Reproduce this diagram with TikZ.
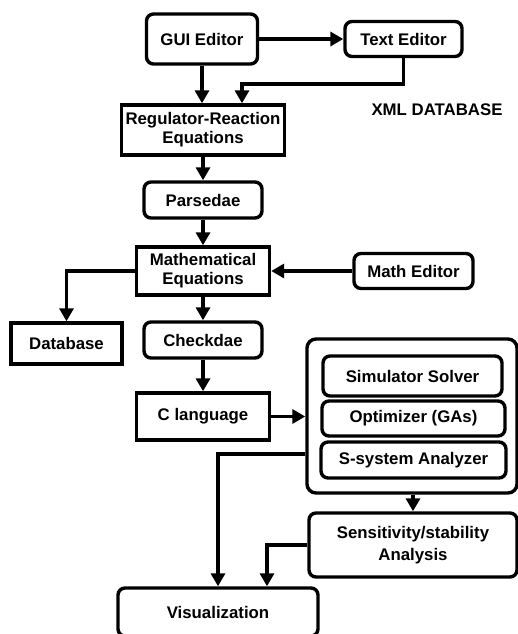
\documentclass[tikz,border=0pt]{standalone}
\usepackage{fontspec}
\setmainfont{Liberation Sans}
\usepackage{tikz}
\usetikzlibrary{arrows.meta, positioning}
\tikzstyle{roundbox}=[draw, line width=3.4pt, rounded corners=7pt, align=center, inner sep=0pt, font=\fontsize{16.8}{19}\selectfont\bfseries]
\tikzstyle{sharpbox}=[draw, line width=3.4pt, align=center, inner sep=0pt, font=\fontsize{16.8}{19}\selectfont\bfseries]
\tikzstyle{flow}=[line width=3.6pt, -{Triangle[length=13pt, width=14pt]}]
\tikzstyle{plainlabel}=[font=\fontsize{16.8}{19}\selectfont\bfseries]

\begin{document}
\begin{tikzpicture}[x=1pt, y=-1pt]
    % Frame
    \useasboundingbox (0,0) rectangle (518,634);

    % Editors
    \node[roundbox, minimum width=111pt, minimum height=50pt] (gui) at (202,39) {GUI Editor};
    \node[roundbox, minimum width=117pt, minimum height=35pt] (text) at (403.5,39) {Text Editor};
    \node[plainlabel] (xml) at (437,110) {XML DATABASE};

    % Equation chain
    \node[sharpbox, minimum width=163pt, minimum height=50pt] (reg) at (203,130) {Regulator-Reaction\\Equations};
    \node[roundbox, minimum width=118pt, minimum height=36pt] (parse) at (203,200) {Parsedae};
    \node[sharpbox, minimum width=133pt, minimum height=48pt] (math) at (203,271) {Mathematical\\Equations};
    \node[roundbox, minimum width=119pt, minimum height=35pt] (matheditor) at (413.5,271) {Math Editor};
    \node[sharpbox, minimum width=111pt, minimum height=41pt] (db) at (66.5,343.5) {Database};
    \node[roundbox, minimum width=118pt, minimum height=36pt] (check) at (203,340) {Checkdae};
    \node[sharpbox, minimum width=133pt, minimum height=47pt] (clang) at (203,416.5) {C language};

    % Solver block
    \node[draw, line width=3.4pt, rounded corners=9pt, minimum width=210pt, minimum height=154pt] (solver) at (412,416) {};
    \node[roundbox, minimum width=179pt, minimum height=40pt] (sim) at (412.5,376) {Simulator Solver};
    \node[roundbox, minimum width=183pt, minimum height=35pt] (opt) at (413.5,418.5) {Optimizer (GAs)};
    \node[roundbox, minimum width=185pt, minimum height=36pt] (sana) at (413.5,460) {S-system Analyzer};

    % Outputs
    \node[roundbox, minimum width=208pt, minimum height=64pt] (sens) at (413,545) {Sensitivity/stability\\[3pt]Analysis};
    \node[roundbox, minimum width=200pt, minimum height=48pt] (vis) at (218,612) {Visualization};

    % Connections
    \coordinate (join) at (242,84);
    \draw[flow] (gui.east) -- (text.west);
    \draw[flow] (gui.south) -- (gui.south |- reg.north);
    \draw[flow] (text.south) |- (join) -- (join |- reg.north);
    \draw[flow] (reg.south) -- (parse.north);
    \draw[flow] (parse.south) -- (math.north);
    \draw[flow] (matheditor.west) -- (math.east);
    \draw[flow] (math.west) -| (db.north);
    \draw[flow] (math.south) -- (check.north);
    \draw[flow] (check.south) -- (clang.north);
    \draw[flow] (clang.east) -- (clang.east -| solver.west);
    \draw[flow] ([yshift=-38pt]solver.west) -| (vis.north);
    \draw[flow] (solver.south -| sens.north) -- (sens.north);
    \draw[flow] (sens.west) -| ([xshift=49pt]vis.north);
\end{tikzpicture}
\end{document}
